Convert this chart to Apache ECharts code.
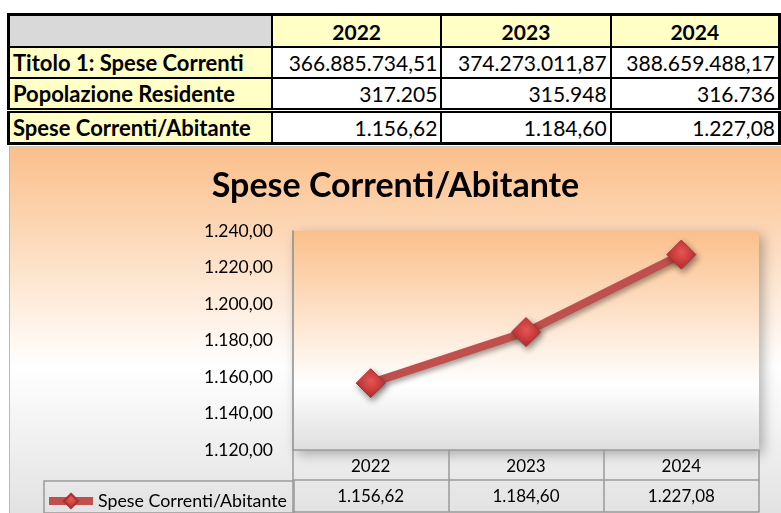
<!DOCTYPE html>
<html>
<head>
<meta charset="utf-8">
<script src="https://cdn.jsdelivr.net/npm/echarts@6/dist/echarts.min.js"></script>
<style>
    body { margin:0; width:781px; height:513px; background:#fff; overflow:hidden; position:relative; font-family: Lato, "Liberation Sans", sans-serif; }
    #tab { position:absolute; left:7px; top:13px; border-collapse:collapse; border:3px solid #000; font-size:21px; color:#000; }
    #tab td { border:2px solid #000; padding:0 3px; height:29px; line-height:29px; white-space:nowrap; }
    #tab tr.r0 td { height:30px; }
    #tab td.lab { background:#ffffc6; font-weight:bold; text-align:left; font-size:22px; }
    #tab td.hd { background:#ffffc6; font-weight:bold; text-align:center; }
    #tab td.corner { background:#d9d9d9; }
    #tab td.num { background:#fff; text-align:right; }
    #tab tr.r1 td { border-bottom-width:1px; }
    #tab tr.r3 td { border-top:5px double #000; }
    #chart { position:absolute; left:9px; top:146px; width:772px; height:367px; border-left:1px solid #b8b8b8; border-top:1px solid #c8c8c8; box-sizing:border-box; }
</style>
</head>
<body>
<table id="tab"></table>
<div id="chart"></div>
<script>
// dati
var anni = ['2022', '2023', '2024'];
var speseCorrenti = [366885734.51, 374273011.87, 388659488.17];
var popolazione = [317205, 315948, 316736];
var speseAbitante = [1156.62, 1184.60, 1227.08];
var nomeSerie = 'Spese Correnti/Abitante';

// formato italiano 1.234,56
function fmt(v, dec) {
    var s = v.toFixed(dec).split('.');
    var intero = s[0].replace(/\B(?=(\d{3})+(?!\d))/g, '.');
    return dec ? intero + ',' + s[1] : intero;
}

// tabella in alto
var righe = [
    { nome: 'Titolo 1: Spese Correnti', val: speseCorrenti, dec: 2, cls: 'r1' },
    { nome: 'Popolazione Residente', val: popolazione, dec: 0, cls: 'r2' },
    { nome: 'Spese Correnti/Abitante', val: speseAbitante, dec: 2, cls: 'r3' }
];
var html = '<tr class="r0"><td class="corner" style="width:256px"></td>';
var largh = [162, 162, 161];
anni.forEach(function (a, i) { html += '<td class="hd" style="width:' + largh[i] + 'px">' + a + '</td>'; });
html += '</tr>';
righe.forEach(function (r) {
    html += '<tr class="' + r.cls + '"><td class="lab">' + r.nome + '</td>';
    r.val.forEach(function (v) { html += '<td class="num">' + fmt(v, r.dec) + '</td>'; });
    html += '</tr>';
});
document.getElementById('tab').innerHTML = html;

var myChart = echarts.init(document.getElementById('chart'));
var option = {
    backgroundColor: {
        type: 'linear', x: 0, y: 0, x2: 0, y2: 1,
        colorStops: [
            { offset: 0, color: '#fbbf8a' },
            { offset: 0.6, color: '#ffffff' },
            { offset: 1, color: '#e2e2e2' }
        ]
    },
    title: {
        text: nomeSerie,
        left: 'center',
        top: 17,
        textStyle: { fontFamily: 'Lato', fontSize: 34, fontWeight: 'bold', color: '#000' }
    },
    legend: {
        data: [nomeSerie],
        left: 30,
        top: 340,
        itemWidth: 44,
        itemHeight: 18,
        lineStyle: { width: 8, color: '#c0504d' },
        textStyle: { fontFamily: 'Lato', fontSize: 17.8, color: '#000' }
    },
    grid: {
        left: 283, right: 22, top: 84, bottom: 63,
        show: true,
        borderWidth: 0,
        backgroundColor: {
            type: 'linear', x: 0, y: 0, x2: 0, y2: 1,
            colorStops: [
                { offset: 0, color: '#fbbf8a' },
                { offset: 0.7, color: '#ffffff' },
                { offset: 1, color: '#dedede' }
            ]
        },
        shadowColor: 'rgba(0,0,0,0.3)',
        shadowBlur: 12,
        shadowOffsetX: 4,
        shadowOffsetY: 4
    },
    xAxis: [
        {
            type: 'category', data: anni, position: 'bottom',
            axisLine: { lineStyle: { color: '#9a9a9a', width: 1.5 } },
            axisTick: { show: true, length: 62, lineStyle: { color: '#9a9a9a', width: 1.5 } },
            axisLabel: { margin: 8, fontFamily: 'Lato', fontSize: 17, color: '#000' }
        },
        {
            type: 'category', data: anni, position: 'bottom', offset: 30,
            axisLine: { lineStyle: { color: '#9a9a9a', width: 1.5 } },
            axisTick: { show: false },
            axisLabel: {
                margin: 8, fontFamily: 'Lato', fontSize: 17, color: '#000',
                formatter: function (v, i) { return fmt(speseAbitante[i], 2); }
            }
        },
        {
            type: 'category', data: anni, position: 'bottom', offset: 62,
            axisLine: { lineStyle: { color: '#9a9a9a', width: 1.5 } },
            axisTick: { show: false },
            axisLabel: { show: false }
        }
    ],
    yAxis: {
        type: 'value', min: 1120, max: 1240, interval: 20,
        axisLine: { show: true, lineStyle: { color: '#8c8c8c', width: 1.5 } },
        axisTick: { show: false },
        splitLine: { show: false },
        axisLabel: {
            margin: 20, fontFamily: 'Lato', fontSize: 17.5, color: '#000',
            formatter: function (v) { return fmt(v, 2); }
        }
    },
    graphic: [{
        type: 'rect',
        shape: { x: 34, y: 334, width: 250, height: 32 },
        style: { fill: 'none', stroke: '#9a9a9a', lineWidth: 1.5 }
    }],
    series: [{
        name: nomeSerie,
        type: 'line',
        data: speseAbitante,
        symbol: 'diamond',
        symbolSize: 29,
        lineStyle: {
            color: '#c0504d', width: 8,
            shadowColor: 'rgba(0,0,0,0.35)', shadowBlur: 5, shadowOffsetX: 2, shadowOffsetY: 3
        },
        itemStyle: {
            color: {
                type: 'radial', x: 0.5, y: 0.4, r: 0.6,
                colorStops: [{ offset: 0, color: '#ec5656' }, { offset: 1, color: '#b42a2a' }]
            },
            borderColor: '#a83232', borderWidth: 1,
            shadowColor: 'rgba(0,0,0,0.45)', shadowBlur: 6, shadowOffsetX: 2, shadowOffsetY: 3
        }
    }]
};
myChart.setOption(option);
</script>
</body>
</html>
